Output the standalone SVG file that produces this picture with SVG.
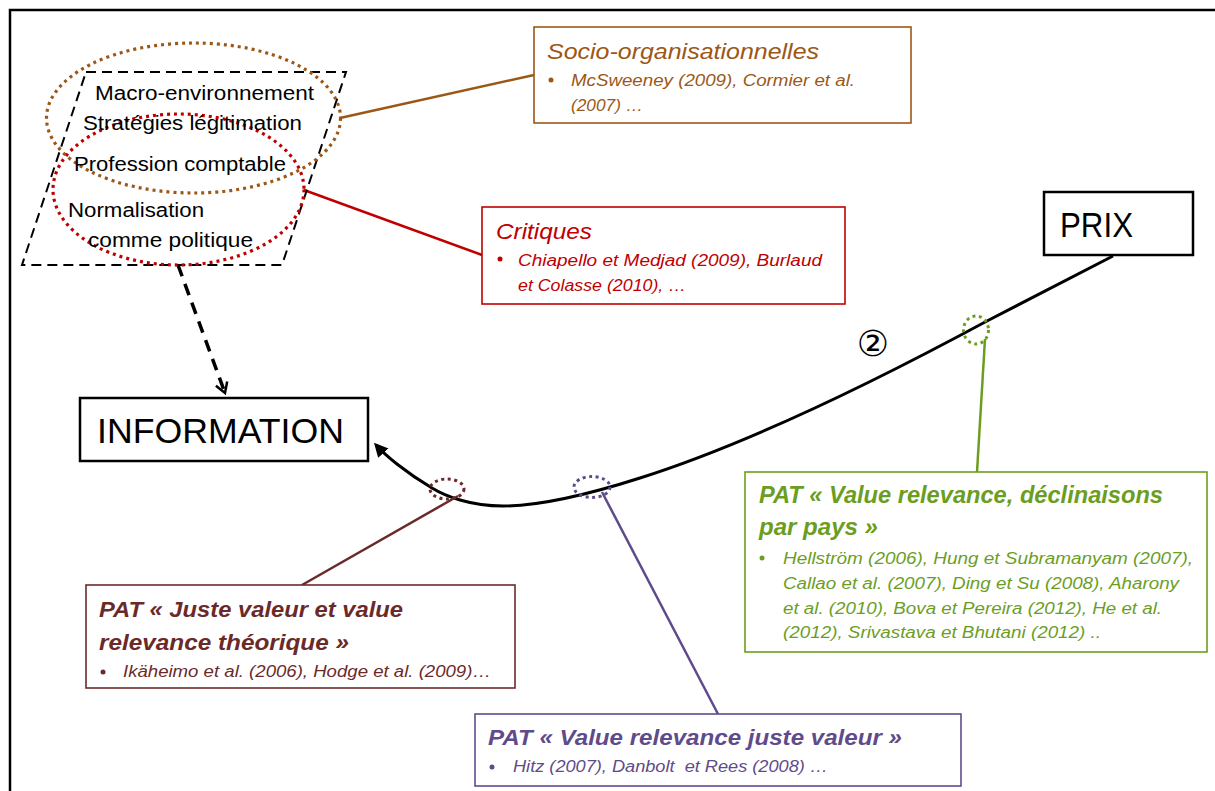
<svg xmlns="http://www.w3.org/2000/svg" width="1215" height="791" viewBox="0 0 1215 791">
<style>
.t{font-family:"Liberation Sans",Arial,sans-serif;}
.it{font-family:"Liberation Sans",Arial,sans-serif;font-style:italic;}
.bi{font-family:"Liberation Sans",Arial,sans-serif;font-style:italic;font-weight:bold;}
.blk{font-size:20px;fill:#000;}
.big{font-size:35px;fill:#000;}
.box{fill:#fff;stroke-width:1.6;}
</style>
<defs>
<marker id="arr" markerWidth="14" markerHeight="14" refX="11" refY="7" orient="auto" markerUnits="userSpaceOnUse" viewBox="0 0 14 14">
<path d="M0,0 L14,7 L0,14 z" fill="#000"/>
</marker>
<marker id="open" markerWidth="16" markerHeight="16" refX="12" refY="8" orient="auto" markerUnits="userSpaceOnUse" viewBox="0 0 16 16">
<path d="M2,2 L12,8 L2,14" fill="none" stroke="#000" stroke-width="2.5"/>
</marker>
</defs>
<rect width="1215" height="791" fill="#fff"/>
<path d="M10,791 L10,10 L1215,10" fill="none" stroke="#000" stroke-width="2.5"/>

<g id="connectors">
<line x1="340" y1="118" x2="534" y2="75" stroke="#9C5716" stroke-width="2.5"/>
<line x1="304" y1="190" x2="482" y2="255" stroke="#C00000" stroke-width="2.5"/>
<line x1="178" y1="265" x2="225" y2="393" stroke="#000" stroke-width="3.5" stroke-dasharray="12 8" marker-end="url(#open)"/>
<path d="M1113,256 L987,321 C900,368 760,440 640,478 C590,494 540,506 503,506 C470,506 445,496 432,488 C405,472 385,455 376,445" fill="none" stroke="#000" stroke-width="3" marker-end="url(#arr)"/>
<line x1="458" y1="496" x2="302" y2="585" stroke="#6B2A2A" stroke-width="2.5"/>
<line x1="602" y1="492" x2="718" y2="714" stroke="#5F4B8B" stroke-width="2.5"/>
<line x1="985" y1="339" x2="977" y2="472" stroke="#6B9E1F" stroke-width="2.5"/>
<ellipse cx="447" cy="489" rx="17" ry="10" fill="none" stroke="#6B2A2A" stroke-width="3" stroke-dasharray="3 3.5"/>
<ellipse cx="592" cy="487" rx="18" ry="10.5" fill="none" stroke="#5F4B8B" stroke-width="3" stroke-dasharray="3 3.5"/>
<ellipse cx="976" cy="330" rx="12.5" ry="14" fill="none" stroke="#6B9E1F" stroke-width="3" stroke-dasharray="3 3.5"/>
<text x="873" y="356" font-family="DejaVu Sans, sans-serif" font-size="36" text-anchor="middle" fill="#000">②</text>
</g>

<g id="macro">
<polygon points="86,72 346,72 282,265 22,265" fill="none" stroke="#000" stroke-width="2" stroke-dasharray="10 6"/>
<ellipse cx="193.5" cy="118" rx="147" ry="75" fill="none" stroke="#9C5716" stroke-width="3.2" stroke-dasharray="3 4"/>
<ellipse cx="178.5" cy="189.5" rx="125.5" ry="75.5" fill="none" stroke="#C00000" stroke-width="3.2" stroke-dasharray="3 4"/>
<text x="95" y="100" class="t blk" textLength="219" lengthAdjust="spacingAndGlyphs">Macro-environnement</text>
<text x="83" y="130" class="t blk" textLength="219" lengthAdjust="spacingAndGlyphs">Stratégies légitimation</text>
<text x="74" y="171" class="t blk" textLength="212" lengthAdjust="spacingAndGlyphs">Profession comptable</text>
<text x="68" y="217" class="t blk" textLength="136" lengthAdjust="spacingAndGlyphs">Normalisation</text>
<text x="88" y="247" class="t blk" textLength="165" lengthAdjust="spacingAndGlyphs">comme politique</text>
</g>

<g id="socio">
<rect x="534" y="27" width="377" height="96" class="box" stroke="#9C5716"/>
<text x="547" y="59" class="it" font-size="22" fill="#9C5716" textLength="272" lengthAdjust="spacingAndGlyphs">Socio-organisationnelles</text>
<circle cx="551" cy="80" r="2.5" fill="#9C5716"/>
<text x="571" y="86" class="it" font-size="16" fill="#9C5716" textLength="284" lengthAdjust="spacingAndGlyphs">McSweeney (2009), Cormier et al.</text>
<text x="571" y="111" class="it" font-size="16" fill="#9C5716" textLength="72" lengthAdjust="spacingAndGlyphs">(2007) …</text>
</g>

<g id="critiques">
<rect x="482" y="207" width="363" height="97" class="box" stroke="#C00000"/>
<text x="496" y="239" class="it" font-size="22" fill="#C00000" textLength="96" lengthAdjust="spacingAndGlyphs">Critiques</text>
<circle cx="500" cy="259" r="2.5" fill="#C00000"/>
<text x="518" y="266" class="it" font-size="16" fill="#C00000" textLength="304" lengthAdjust="spacingAndGlyphs">Chiapello et Medjad (2009), Burlaud</text>
<text x="518" y="291" class="it" font-size="16" fill="#C00000" textLength="168" lengthAdjust="spacingAndGlyphs">et Colasse (2010), …</text>
</g>

<g id="prix">
<rect x="1044" y="192" width="149" height="63" fill="#fff" stroke="#000" stroke-width="2.5"/>
<text x="1060" y="237" class="t big" textLength="73" lengthAdjust="spacingAndGlyphs">PRIX</text>
</g>

<g id="information">
<rect x="80" y="398" width="288" height="63" fill="#fff" stroke="#000" stroke-width="2.5"/>
<text x="97" y="443" class="t big" textLength="247" lengthAdjust="spacingAndGlyphs">INFORMATION</text>
</g>

<g id="juste">
<rect x="86" y="585" width="429" height="103" class="box" stroke="#6B2A2A"/>
<text x="99" y="617" class="bi" font-size="22" fill="#6B2A2A" textLength="304" lengthAdjust="spacingAndGlyphs">PAT « Juste valeur et value</text>
<text x="99" y="650" class="bi" font-size="22" fill="#6B2A2A" textLength="250" lengthAdjust="spacingAndGlyphs">relevance théorique »</text>
<circle cx="103" cy="672" r="2.5" fill="#6B2A2A"/>
<text x="123" y="677" class="it" font-size="16" fill="#6B2A2A" textLength="368" lengthAdjust="spacingAndGlyphs">Ikäheimo et al. (2006), Hodge et al. (2009)…</text>
</g>

<g id="vrjv">
<rect x="475" y="714" width="486" height="72" class="box" stroke="#5F4B8B"/>
<text x="488" y="745" class="bi" font-size="22" fill="#5F4B8B" textLength="414" lengthAdjust="spacingAndGlyphs">PAT « Value relevance juste valeur »</text>
<circle cx="492" cy="767" r="2.5" fill="#5F4B8B"/>
<text x="513" y="772" class="it" font-size="16" fill="#5F4B8B" textLength="315" lengthAdjust="spacingAndGlyphs" xml:space="preserve">Hitz (2007), Danbolt&#160; et Rees (2008) …</text>
</g>

<g id="pays">
<rect x="745" y="472" width="462" height="180" class="box" stroke="#6B9E1F"/>
<text x="759" y="503" class="bi" font-size="23" fill="#6B9E1F" textLength="404" lengthAdjust="spacingAndGlyphs">PAT « Value relevance, déclinaisons</text>
<text x="759" y="535" class="bi" font-size="23" fill="#6B9E1F" textLength="119" lengthAdjust="spacingAndGlyphs">par pays »</text>
<circle cx="762" cy="558" r="2.5" fill="#6B9E1F"/>
<text x="783" y="564" class="it" font-size="16" fill="#6B9E1F" textLength="410" lengthAdjust="spacingAndGlyphs">Hellström (2006), Hung et Subramanyam (2007),</text>
<text x="783" y="589" class="it" font-size="16" fill="#6B9E1F" textLength="396" lengthAdjust="spacingAndGlyphs">Callao et al. (2007), Ding et Su (2008), Aharony</text>
<text x="783" y="614" class="it" font-size="16" fill="#6B9E1F" textLength="379" lengthAdjust="spacingAndGlyphs">et al. (2010), Bova et Pereira (2012), He et al.</text>
<text x="783" y="638" class="it" font-size="16" fill="#6B9E1F" textLength="318" lengthAdjust="spacingAndGlyphs">(2012), Srivastava et Bhutani (2012) ..</text>
</g>
</svg>
